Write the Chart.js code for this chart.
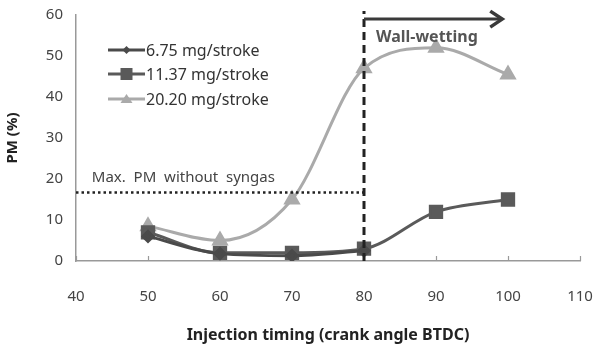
<!DOCTYPE html>
<html>
<head>
<meta charset="utf-8">
<script src="https://cdn.jsdelivr.net/npm/chart.js@4"></script>
<style>
  html, body { margin: 0; padding: 0; background: #fff; }
  #c { display: block; }
</style>
</head>
<body>
<canvas id="c" width="599" height="349"></canvas>
<script>
// data
const timing = [50, 60, 70, 80, 90, 100];
const pm675 = [6, 1.8, 1.3, 2.5];
const pm1137 = [7, 2, 2, 3, 12, 15];
const pm2020 = [8.5, 5, 15, 47, 52, 45.5];
const seriesNames = ['6.75 mg/stroke', '11.37 mg/stroke', '20.20 mg/stroke'];
const xTicks = [40, 50, 60, 70, 80, 90, 100, 110];
const maxPmNoSyngas = 16.7;
const wallWetStart = 80;
const wallWetEnd = 99.2;

const FONT = '"Noto Sans", "Open Sans", sans-serif';

function pts(vals) {
    return vals.map((v, i) => ({ x: timing[i], y: v }));
}

// legend + annotations drawn by hand
const extras = {
    id: 'extras',
    beforeDatasetsDraw(chart) {
        // small x tick marks pointing up from the axis
        const ctx = chart.ctx;
        const xs = chart.scales.x, ys = chart.scales.y;
        ctx.save();
        ctx.strokeStyle = '#999';
        ctx.lineWidth = 1.2;
        const y0 = ys.getPixelForValue(0);
        xTicks.forEach(v => {
            const x = Math.round(xs.getPixelForValue(v)) + 0.5;
            ctx.beginPath();
            ctx.moveTo(x, y0);
            ctx.lineTo(x, y0 - 5);
            ctx.stroke();
        });
        ctx.restore();
    },
    afterDatasetsDraw(chart) {
        const ctx = chart.ctx;
        const xs = chart.scales.x, ys = chart.scales.y;
        ctx.save();

        // dotted horizontal line
        ctx.strokeStyle = '#222';
        ctx.lineWidth = 2.5;
        ctx.setLineDash([2.5, 3]);
        ctx.beginPath();
        ctx.moveTo(xs.getPixelForValue(40), ys.getPixelForValue(maxPmNoSyngas));
        ctx.lineTo(xs.getPixelForValue(wallWetStart), ys.getPixelForValue(maxPmNoSyngas));
        ctx.stroke();

        // dashed vertical line
        ctx.lineWidth = 3;
        ctx.setLineDash([8, 5]);
        ctx.beginPath();
        ctx.moveTo(xs.getPixelForValue(wallWetStart), ys.getPixelForValue(0));
        ctx.lineTo(xs.getPixelForValue(wallWetStart), ys.getPixelForValue(61));
        ctx.stroke();
        ctx.setLineDash([]);

        // arrow
        const ay = ys.getPixelForValue(59);
        const ax0 = xs.getPixelForValue(wallWetStart);
        const ax1 = xs.getPixelForValue(wallWetEnd);
        ctx.strokeStyle = '#3a3a3a';
        ctx.lineWidth = 3;
        ctx.beginPath();
        ctx.moveTo(ax0, ay);
        ctx.lineTo(ax1 - 2, ay);
        ctx.stroke();
        ctx.beginPath();
        ctx.moveTo(ax1 - 12, ay - 8);
        ctx.lineTo(ax1, ay);
        ctx.lineTo(ax1 - 12, ay + 8);
        ctx.lineWidth = 3.5;
        ctx.stroke();

        // texts
        ctx.fillStyle = '#555';
        ctx.font = 'bold 16px ' + FONT;
        ctx.textBaseline = 'middle';
        ctx.textAlign = 'left';
        ctx.fillText('Wall-wetting', ax0 + 12, ys.getPixelForValue(54.5));
        ctx.font = '15px ' + FONT;
        ctx.fillStyle = '#444';
        ctx.fillText('Max.  PM  without  syngas', xs.getPixelForValue(42.2), ys.getPixelForValue(20.2));

        // legend
        const rows = [50, 74, 99];
        chart.data.datasets.forEach((ds, i) => {
            const y = rows[i];
            ctx.strokeStyle = ds.borderColor;
            ctx.lineWidth = 3;
            ctx.beginPath();
            ctx.moveTo(108, y);
            ctx.lineTo(145, y);
            ctx.stroke();
            ctx.fillStyle = ds.backgroundColor;
            const cx = 126.5;
            ctx.beginPath();
            if (ds.pointStyle === 'rectRot') {
                ctx.moveTo(cx, y - 4); ctx.lineTo(cx + 4, y); ctx.lineTo(cx, y + 4); ctx.lineTo(cx - 4, y);
            } else if (ds.pointStyle === 'rect') {
                ctx.rect(cx - 6, y - 6, 12, 12);
            } else {
                ctx.moveTo(cx, y - 5); ctx.lineTo(cx + 6, y + 4); ctx.lineTo(cx - 6, y + 4);
            }
            ctx.closePath();
            ctx.fill();
            ctx.fillStyle = '#333';
            ctx.font = '16px ' + FONT;
            ctx.fillText(ds.label, 146, y + 1);
        });

        ctx.restore();
    }
};

new Chart(document.getElementById('c'), {
    type: 'line',
    data: {
        datasets: [{
            label: seriesNames[0],
            data: pts(pm675),
            borderColor: '#4a4a4a',
            backgroundColor: '#4a4a4a',
            pointStyle: 'rectRot',
            pointRadius: 5,
            borderWidth: 3
        }, {
            label: seriesNames[1],
            data: pts(pm1137),
            borderColor: '#5a5a5a',
            backgroundColor: '#5a5a5a',
            pointStyle: 'rect',
            pointRadius: 8,
            borderWidth: 3
        }, {
            label: seriesNames[2],
            data: pts(pm2020),
            borderColor: '#aaaaaa',
            backgroundColor: '#aaaaaa',
            pointStyle: 'triangle',
            pointRadius: 7,
            borderWidth: 3
        }]
    },
    options: {
        responsive: false,
        animation: false,
        layout: { padding: { top: 15, right: 19, left: 0, bottom: 0 } },
        elements: { line: { tension: 0.4, cubicInterpolationMode: 'monotone' } },
        plugins: { legend: { display: false }, tooltip: { enabled: false } },
        scales: {
            x: {
                type: 'linear',
                min: 40, max: 110,
                afterBuildTicks: (s) => { s.ticks = xTicks.map(v => ({ value: v })); },
                grid: { display: false, drawTicks: false },
                border: { color: '#999', width: 1.5 },
                ticks: { padding: 27, color: '#444', font: { family: FONT, size: 15 }, maxRotation: 0 },
                title: {
                    display: true,
                    text: 'Injection timing (crank angle BTDC)',
                    color: '#222',
                    font: { family: FONT, size: 16, weight: 'bold' },
                    padding: { top: 18 }
                },
                afterFit: (s) => { s.height = 88; s.paddingLeft = 0; s.paddingRight = 0; }
            },
            y: {
                min: 0, max: 60,
                ticks: { stepSize: 10, padding: 8, color: '#444', font: { family: FONT, size: 15 } },
                grid: { display: false, drawTicks: true, tickLength: 5, tickColor: '#999' },
                border: { color: '#999', width: 1.5 },
                title: {
                    display: true,
                    text: 'PM (%)',
                    color: '#222',
                    font: { family: FONT, size: 15, weight: 'bold' },
                    padding: { bottom: 12 }
                },
                afterFit: (s) => { s.width = 76; s.paddingTop = 0; s.paddingBottom = 0; }
            }
        }
    },
    plugins: [extras]
});
</script>
</body>
</html>
